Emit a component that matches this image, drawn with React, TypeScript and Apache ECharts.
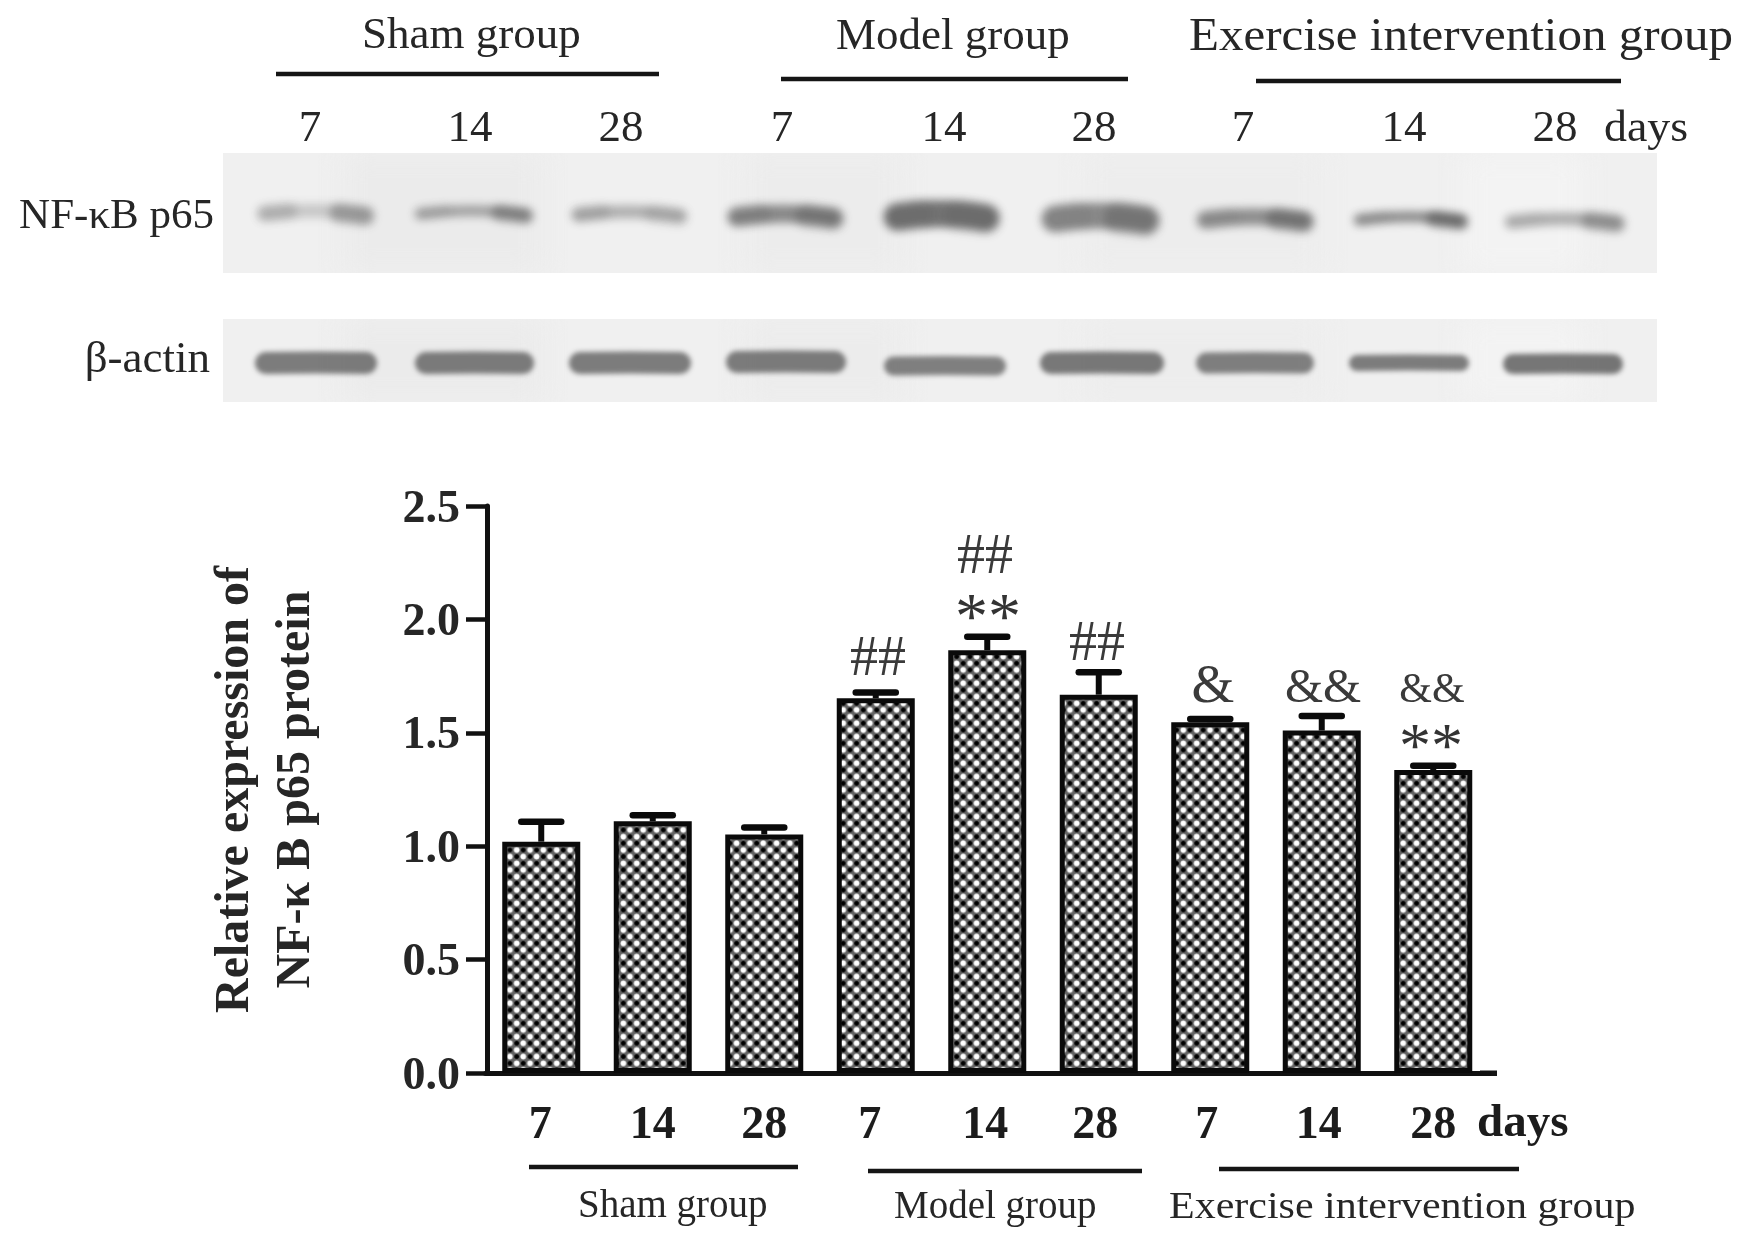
import React, { useEffect, useRef } from "react";
import * as echarts from "echarts";

const dayLabels = ["7", "14", "28", "7", "14", "28", "7", "14", "28"];
const labelShift = [2, 0, 0, 12, 4, 7, 7, 6, 0];
const expression = [1.02, 1.11, 1.052, 1.652, 1.864, 1.668, 1.547, 1.51, 1.336];
const errorUpper = [1.108, 1.137, 1.083, 1.678, 1.924, 1.767, 1.561, 1.574, 1.355];
const yTicks = { min: 0, max: 2.5, interval: 0.5 };
const yTitle = "Relative expression of\nNF-\u03ba B p65 protein";

const SERIF = "'Liberation Serif', serif";

function checkerTile() {
  const c = document.createElement("canvas");
  c.width = 54;
  c.height = 54;
  const g = c.getContext("2d")!;
  g.fillStyle = "#626262";
  g.fillRect(0, 0, 54, 54);
  const dot = (x: number, y: number, col: string, r: number) => {
    g.fillStyle = col;
    g.beginPath();
    g.arc(x, y, r, 0, Math.PI * 2);
    g.fill();
  };
  dot(13.5, 13.5, "#fff", 11.5);
  dot(40.5, 40.5, "#fff", 11.5);
  dot(40.5, 13.5, "#000", 9.5);
  dot(13.5, 40.5, "#000", 9.5);
  return c;
}

function blotPanel(w: number, h: number, originX: number, originY: number, bands: number[][], arched: boolean) {
  const c = document.createElement("canvas");
  c.width = w;
  c.height = h;
  const g = c.getContext("2d")!;
  g.fillStyle = "#f0f0f0";
  g.fillRect(0, 0, w, h);
  g.filter = "blur(14px)";
  for (const [px, pw, col] of [[120, 200, "#ebebeb"], [520, 160, "#ececec"], [860, 240, "#ededed"], [1240, 120, "#f3f3f3"]] as any[]) {
    g.fillStyle = col;
    g.fillRect(px, 0, pw, h);
  }
  g.filter = arched ? "blur(4px)" : "blur(2.5px)";
  g.lineCap = "round";
  for (const [x1, x2, yc, bh, a, la, ra] of bands) {
    const y = yc - originY;
    const l = x1 - originX + bh / 2 + 2;
    const r = x2 - originX - bh / 2 - 2;
    g.strokeStyle = `rgba(40,40,40,${a})`;
    g.lineWidth = bh;
    g.beginPath();
    g.moveTo(l, y + (arched ? 2 : 0));
    g.quadraticCurveTo((l + r) / 2, y - (arched ? 5 : 1), r, y + (arched ? 3 : 0));
    g.stroke();
    if (la) {
      g.strokeStyle = `rgba(40,40,40,${la})`;
      g.lineWidth = bh + 2;
      g.beginPath();
      g.moveTo(l, y + 1);
      g.lineTo(l + 24, y - 1);
      g.stroke();
    }
    if (ra) {
      g.strokeStyle = `rgba(40,40,40,${ra})`;
      g.lineWidth = bh + 5;
      g.beginPath();
      g.moveTo(r - 26, y + 1);
      g.lineTo(r, y + 4);
      g.stroke();
    }
  }
  return c;
}

const upperBands = [
  [256, 374, 212, 14, 0.2, 0.16, 0.3],
  [413, 533, 212, 11, 0.38, 0.06, 0.32],
  [570, 688, 213, 13, 0.32, 0.12, 0.1],
  [726, 844, 215, 18, 0.5, 0.12, 0.22],
  [882, 1001, 215, 27, 0.62, 0.08, 0.1],
  [1040, 1160, 217, 26, 0.5, 0.08, 0.22],
  [1195, 1314, 218, 17, 0.48, 0.05, 0.28],
  [1352, 1468, 218, 11, 0.5, 0.05, 0.38],
  [1503, 1625, 220, 13, 0.34, 0.03, 0.25],
];
const lowerBands = [
  [253, 379, 363, 22, 0.58, 0, 0],
  [413, 536, 363, 22, 0.58, 0, 0],
  [567, 693, 363, 22, 0.58, 0, 0],
  [724, 848, 362, 22, 0.58, 0, 0],
  [882, 1008, 366, 19, 0.56, 0, 0],
  [1038, 1166, 363, 22, 0.6, 0, 0],
  [1194, 1316, 363, 21, 0.56, 0, 0],
  [1347, 1471, 363, 16, 0.58, 0, 0],
  [1501, 1625, 364, 20, 0.62, 0, 0],
];

function label(text: string, x: number, baseline: number, fs: number, opt: any = {}) {
  return {
    type: "text",
    x,
    y: baseline - 0.3375 * fs,
    scaleX: opt.scaleX || 1,
    silent: true,
    style: {
      text,
      x: 0,
      y: 0,
      fontFamily: SERIF,
      fontSize: fs,
      fontWeight: opt.bold ? "bold" : "normal",
      fill: opt.fill || "#262626",
      align: opt.align || "left",
      verticalAlign: "middle",
    },
  };
}

function rule(x1: number, x2: number, y: number, w = 4.5) {
  return {
    type: "line",
    silent: true,
    shape: { x1, y1: y, x2, y2: y },
    style: { stroke: "#151515", lineWidth: w },
  };
}

export default function App() {
  const ref = useRef<HTMLDivElement>(null);
  useEffect(() => {
    const chart = echarts.init(ref.current!, null, { renderer: "svg", width: 1750, height: 1245 });
    const option: any = {
      animation: false,
      backgroundColor: "#fff",
      grid: { left: 485.5, top: 506, width: 1003.5, height: 567, containLabel: false },
      xAxis: {
        type: "category",
        data: dayLabels.map((value, i) => ({
          value,
          textStyle: { padding: [0, labelShift[i], 0, 0] },
        })),
        axisLine: { onZero: true, lineStyle: { color: "#111", width: 5 } },
        axisTick: { alignWithLabel: true, length: 18, lineStyle: { color: "#111", width: 4 } },
        axisLabel: {
          interval: 0,
          margin: 26,
          fontFamily: SERIF,
          fontWeight: "bold",
          fontSize: 46,
          color: "#1c1c1c",
        },
      },
      yAxis: {
        type: "value",
        min: yTicks.min,
        max: yTicks.max,
        interval: yTicks.interval,
        offset: -1.5,
        splitLine: { show: false },
        axisLine: { show: true, onZero: false, lineStyle: { color: "#111", width: 5 } },
        axisTick: { show: true, length: 21, lineStyle: { color: "#111", width: 4.5 } },
        axisLabel: {
          margin: 27,
          formatter: (v: number) => v.toFixed(1),
          fontFamily: SERIF,
          fontWeight: "bold",
          fontSize: 46,
          color: "#262626",
        },
        name: yTitle,
        nameLocation: "middle",
        nameGap: 164,
        nameRotate: 90,
        nameTextStyle: {
          fontFamily: SERIF,
          fontWeight: "bold",
          fontSize: 48,
          lineHeight: 61,
          color: "#262626",
        },
      },
      series: [
        {
          type: "bar",
          data: expression,
          barWidth: 78,
          itemStyle: {
            color: { image: checkerTile(), repeat: "repeat", scaleX: 0.2469, scaleY: 0.2469 },
            borderColor: "#0a0a0a",
            borderWidth: 5,
          },
        },
        {
          type: "custom",
          data: expression.map((v, i) => [i, v, errorUpper[i]]),
          encode: { x: 0, y: [1, 2] },
          z: 3,
          clip: false,
          renderItem: (_: any, api: any) => {
            const base = api.coord([api.value(0), api.value(1)]);
            const top = api.coord([api.value(0), api.value(2)]);
            const st = { stroke: "#0a0a0a", lineWidth: 6.5, lineCap: "round" };
            return {
              type: "group",
              children: [
                { type: "line", shape: { x1: base[0], y1: base[1], x2: top[0], y2: top[1] }, style: { stroke: "#0a0a0a", lineWidth: 6 } },
                { type: "line", shape: { x1: top[0] - 20, y1: top[1], x2: top[0] + 20, y2: top[1] }, style: st },
              ],
            };
          },
        },
      ],
      graphic: [
        { type: "image", x: 223, y: 153, silent: true, style: { image: blotPanel(1434, 120, 223, 153, upperBands, true), x: 0, y: 0, width: 1434, height: 120 } },
        { type: "image", x: 223, y: 319, silent: true, style: { image: blotPanel(1434, 83, 223, 319, lowerBands, false), x: 0, y: 0, width: 1434, height: 83 } },
        rule(276, 659, 74),
        rule(781, 1128, 79),
        rule(1256, 1621, 81),
        label("Sham group", 362, 48, 45),
        label("Model group", 836, 49, 45),
        label("Exercise intervention group", 1189, 50, 46, { scaleX: 1.065 }),
        label("7", 310, 141, 45, { align: "center" }),
        label("14", 470, 141, 45, { align: "center" }),
        label("28", 621, 141, 45, { align: "center" }),
        label("7", 782, 141, 45, { align: "center" }),
        label("14", 944, 141, 45, { align: "center" }),
        label("28", 1094, 141, 45, { align: "center" }),
        label("7", 1243, 141, 45, { align: "center" }),
        label("14", 1404, 141, 45, { align: "center" }),
        label("28", 1555, 141, 45, { align: "center" }),
        label("days", 1604, 141, 45, { scaleX: 1.02 }),
        label("NF-\u03baB p65", 214, 228, 43, { align: "right" }),
        label("\u03b2-actin", 210, 372, 45, { align: "right" }),
        rule(1480, 1497, 1073.25, 5.5),
        label("##", 878, 675, 56, { align: "center", fill: "#3a3a3a" }),
        label("##", 985, 573, 56, { align: "center", fill: "#3a3a3a" }),
        label("**", 988, 638, 66, { align: "center", fill: "#333" }),
        label("##", 1097, 660, 56, { align: "center", fill: "#3a3a3a" }),
        label("&", 1213, 702, 55, { align: "center", fill: "#3a3a3a" }),
        label("&&", 1323, 702, 49, { align: "center", fill: "#3a3a3a" }),
        label("&&", 1432, 702, 42, { align: "center", fill: "#3a3a3a" }),
        label("**", 1431, 767, 64, { align: "center", fill: "#333" }),
        label("days", 1477, 1136, 47, { bold: true, fill: "#1c1c1c" }),
        rule(529, 798, 1167),
        rule(868, 1142, 1171),
        rule(1219, 1519, 1169),
        label("Sham group", 578, 1217, 39),
        label("Model group", 894, 1218, 39),
        label("Exercise intervention group", 1169, 1218, 39, { scaleX: 1.077 }),
      ],
    };
    chart.setOption(option);
    return () => chart.dispose();
  }, []);
  return (
    <div
      ref={ref}
      style={{ position: "absolute", left: 0, top: 0, width: 1750, height: 1245, filter: "blur(0.7px)" }}
    />
  );
}
